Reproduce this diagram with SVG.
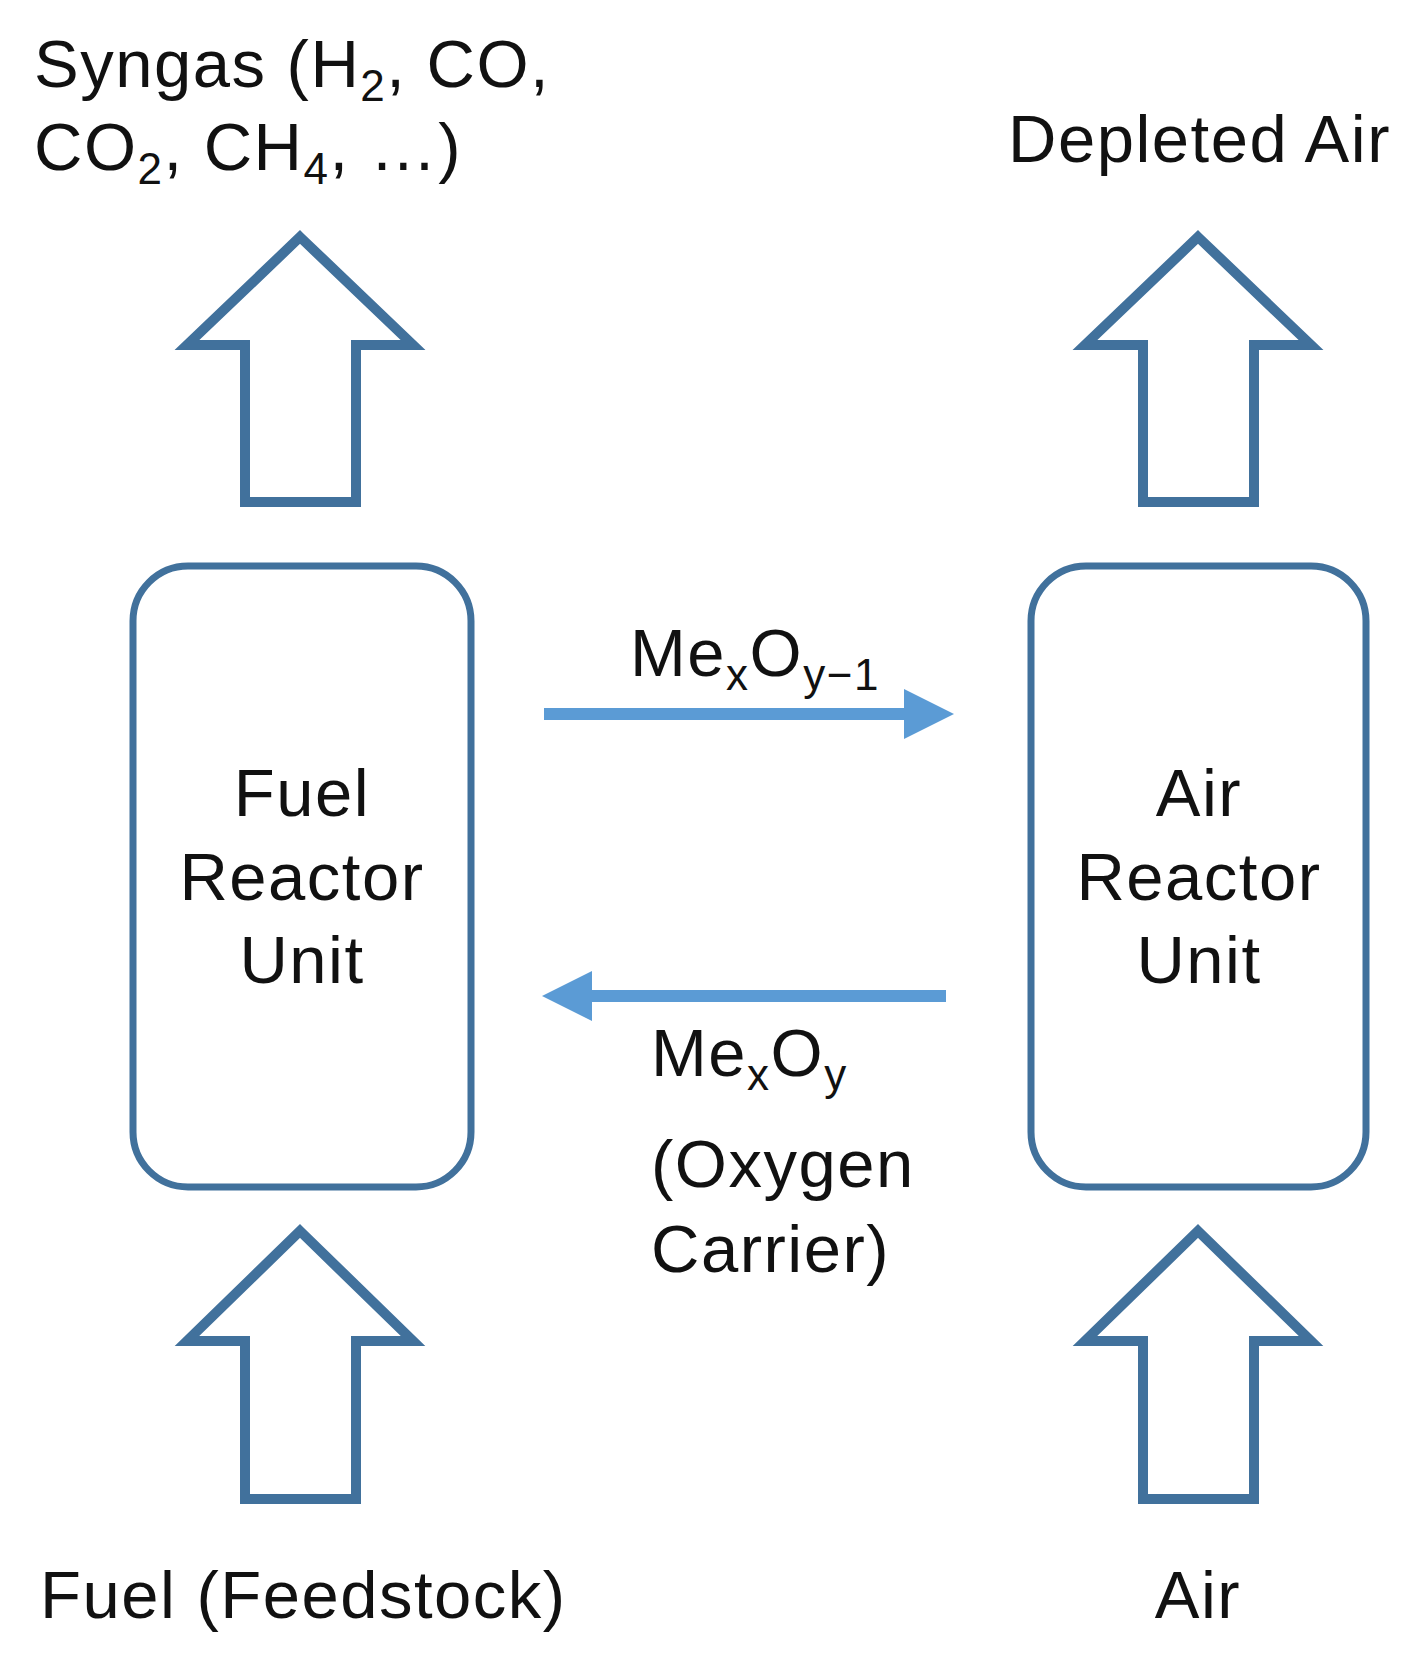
<svg xmlns="http://www.w3.org/2000/svg" width="1414" height="1669" viewBox="0 0 1414 1669">
<style>
text{font-family:"Liberation Sans",Arial,sans-serif;font-size:67px;letter-spacing:1.5px;fill:#111}
.c{text-anchor:middle}
.box{fill:#fff;stroke:#41719c;stroke-width:7}
.big{fill:#fff;stroke:#41719c;stroke-width:10}
.flow{fill:none;stroke:#5b9bd5;stroke-width:12}
.s{font-size:44px}
</style>
<defs>
<marker id="ah" markerUnits="userSpaceOnUse" markerWidth="60" markerHeight="50" refX="0" refY="25" orient="auto"><path d="M0,0 L50,25 L0,50 Z" fill="#5b9bd5"/></marker>
</defs>
<g id="fuel-reactor"><rect class="box" x="133" y="566" width="338" height="621" rx="55"/>
<text class="c" x="302" y="816">Fuel</text><text class="c" x="302" y="900">Reactor</text><text class="c" x="302" y="983">Unit</text></g>
<g id="air-reactor"><rect class="box" x="1031" y="566" width="335" height="621" rx="55"/>
<text class="c" x="1199" y="816">Air</text><text class="c" x="1199" y="900">Reactor</text><text class="c" x="1199" y="983">Unit</text></g>
<g id="syngas-arrow"><path class="big" d="M300,237 L413,345 L356,345 L356,502 L245,502 L245,345 L187,345 Z"/></g>
<g id="depleted-arrow"><path class="big" d="M1198,237 L1311,345 L1254,345 L1254,502 L1143,502 L1143,345 L1085,345 Z"/></g>
<g id="fuel-arrow"><path class="big" d="M300,1231 L413,1341 L356,1341 L356,1499 L245,1499 L245,1341 L187,1341 Z"/></g>
<g id="air-arrow"><path class="big" d="M1198,1231 L1311,1341 L1254,1341 L1254,1499 L1143,1499 L1143,1341 L1085,1341 Z"/></g>
<g id="connectors">
<line class="flow" x1="544" y1="714" x2="904" y2="714" marker-end="url(#ah)"/>
<line class="flow" x1="946" y1="996" x2="592" y2="996" marker-end="url(#ah)"/>
</g>
<g id="labels">
<text x="34" y="87">Syngas (H<tspan class="s" dy="14">2</tspan><tspan dy="-14">, CO,</tspan></text>
<text x="34" y="170">CO<tspan class="s" dy="14">2</tspan><tspan dy="-14">, CH</tspan><tspan class="s" dy="14">4</tspan><tspan dy="-14">, …)</tspan></text>
<text x="1008" y="162">Depleted Air</text>
<text x="40" y="1618">Fuel (Feedstock)</text>
<text class="c" x="1198" y="1618">Air</text>
<text x="630" y="676">Me<tspan class="s" dy="14">x</tspan><tspan dy="-14">O</tspan><tspan class="s" dy="14">y−1</tspan></text>
<text x="651" y="1076">Me<tspan class="s" dy="14">x</tspan><tspan dy="-14">O</tspan><tspan class="s" dy="14">y</tspan></text>
<text x="651" y="1187">(Oxygen</text>
<text x="651" y="1272">Carrier)</text>
</g>
</svg>
